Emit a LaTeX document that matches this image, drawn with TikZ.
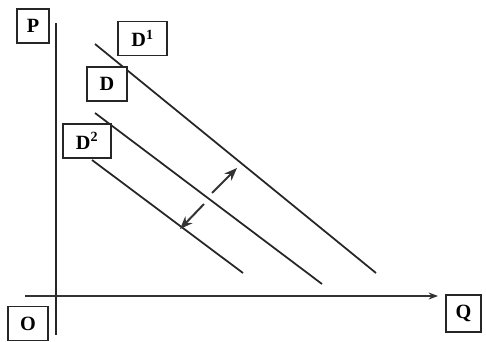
\documentclass[tikz,border=0pt]{standalone}
\usepackage{fontspec}
\setmainfont{Liberation Serif}
\usetikzlibrary{arrows.meta}

\tikzset{
  lbl/.style={draw=black!85, line width=1.2pt, fill=white, font=\LARGE\bfseries,
    minimum height=1.02cm, minimum width=1.15cm, inner sep=1pt},
  curve/.style={line width=1.5pt, draw=black!85},
  shiftarrow/.style={line width=1.7pt, draw=black!80, -{Stealth[length=11pt,width=8.5pt]}}
}

\begin{document}
\begin{tikzpicture}[x=0.03cm, y=-0.03cm]
		\useasboundingbox (0,0) rectangle (486,341);
		% axes
		\coordinate (orig) at (56,296);
		\coordinate (ytop) at (56,23);
		\coordinate (ybot) at (56,335);
		\coordinate (xleft) at (25,296);
		\coordinate (xend) at (438,296);
		\draw [line width=1.5pt, black!85] (ybot) -- (ytop);
		\draw [line width=1.2pt, black!80, -{Stealth[length=8pt,width=6pt]}] (xleft) -- (xend);
		% demand curves
		\coordinate (d1a) at (95,44);
		\coordinate (d1b) at (376,273);
		\coordinate (da) at (95,113);
		\coordinate (db) at (322,284);
		\coordinate (d2a) at (92,160);
		\coordinate (d2b) at (243,273);
		\draw [curve] (d1a) -- (d1b);
		\draw [curve] (da) -- (db);
		\draw [curve] (d2a) -- (d2b);
		% shifts
		\coordinate (upA) at (212,193);
		\coordinate (upB) at (237,168);
		\coordinate (dnA) at (204,204);
		\coordinate (dnB) at (180,229);
		\draw [shiftarrow] (upA) -- (upB);
		\draw [shiftarrow] (dnA) -- (dnB);
		% labels
		\node [lbl, minimum width=0.96cm] (P) at (33,26) {P};
		\node [lbl, minimum width=1.47cm] (D1) at (142.5,38.5) {D\textsuperscript{1}};
		\node [lbl, minimum width=1.2cm] (D) at (107,84) {D};
		\node [lbl, minimum width=1.44cm] (D2) at (87,141) {D\textsuperscript{2}};
		\node [lbl, minimum width=1.2cm] (O) at (28,323.5) {O};
		\node [lbl, minimum width=1.05cm, minimum height=1.1cm] (Q) at (463.5,313.5) {Q};
	\end{tikzpicture}
\end{document}
